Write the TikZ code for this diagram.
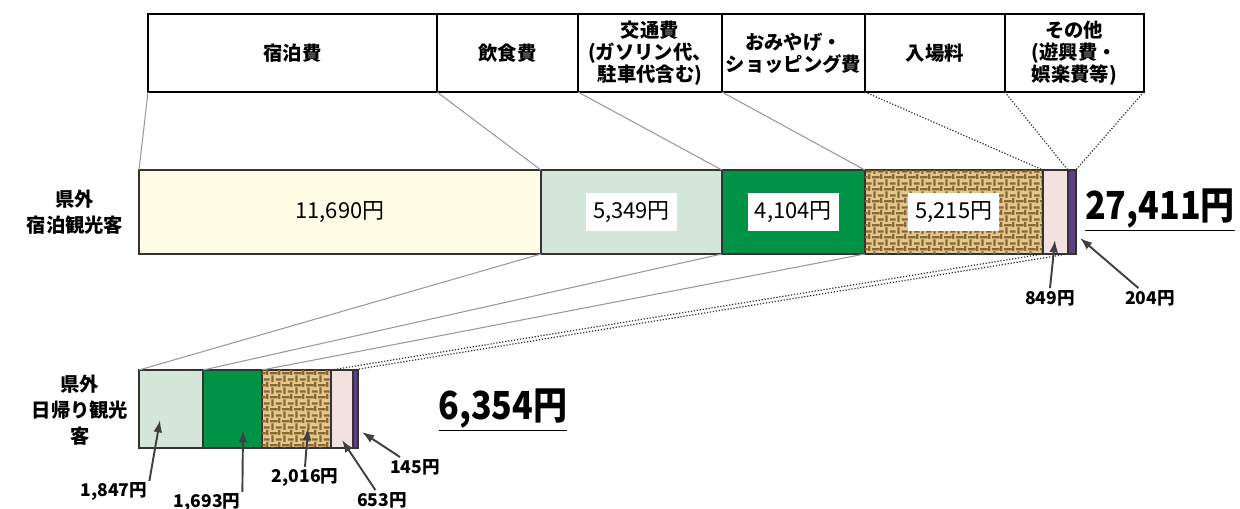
\documentclass[tikz,border=0pt]{standalone}
\usepackage{fontspec}
\setmainfont{Noto Sans CJK JP}
\usetikzlibrary{positioning,patterns,arrows.meta}
\definecolor{stayc}{HTML}{FFFDE6}
\definecolor{foodc}{HTML}{D4E6DA}
\definecolor{greenc}{HTML}{009245}
\definecolor{tanc}{HTML}{E3C88E}
\definecolor{brownc}{HTML}{8A6834}
\definecolor{pinkc}{HTML}{F3E1E0}
\definecolor{purplec}{HTML}{5E3F86}
\pgfdeclarepatternformonly{mazeweave}{\pgfpointorigin}{\pgfqpoint{7pt}{7pt}}{\pgfqpoint{7pt}{7pt}}{
  \pgfsetlinewidth{1.3pt}
  \pgfpathmoveto{\pgfqpoint{0pt}{1pt}}\pgfpathlineto{\pgfqpoint{4.5pt}{1pt}}
  \pgfpathmoveto{\pgfqpoint{1.5pt}{3pt}}\pgfpathlineto{\pgfqpoint{1.5pt}{7pt}}
  \pgfpathmoveto{\pgfqpoint{3.5pt}{4.5pt}}\pgfpathlineto{\pgfqpoint{7pt}{4.5pt}}
  \pgfpathmoveto{\pgfqpoint{5.5pt}{0pt}}\pgfpathlineto{\pgfqpoint{5.5pt}{3pt}}
  \pgfusepath{stroke}}
\newcommand\bigsum[1]{\scalebox{0.88}[1]{\underline{#1}}}
\begin{document}
\begin{tikzpicture}[x=0.02cm,y=-0.02cm,
    head/.style={draw,line width=1.2pt,anchor=north west,minimum height=1.56cm,inner sep=0pt,outer sep=0pt,align=center,font=\bfseries\fontsize{11}{12.5}\selectfont},
    seg/.style={draw=black!80,line width=1pt,minimum height=1.68cm,inner sep=0pt,outer sep=0pt},
    dseg/.style={seg,minimum height=1.56cm},
    mazefill/.style={fill=tanc,postaction={pattern=mazeweave,pattern color=brownc}},
    valbox/.style={fill=white,inner xsep=4pt,inner ysep=5pt,font=\fontsize{12.5}{14}\selectfont},
    vlabel/.style={inner sep=1pt,font=\bfseries\fontsize{10}{12}\selectfont},
    who/.style={align=center,font=\bfseries\fontsize{11}{15}\selectfont},
    total/.style={font=\bfseries\fontsize{22}{24}\selectfont},
    fan/.style={gray!80,line width=0.6pt},
    fandot/.style={black!80,densely dotted,line width=0.7pt},
    pointer/.style={-{Latex[length=7pt,width=5pt]},line width=1.1pt,black!75}]
\useasboundingbox (0,0) rectangle (1240,508);

\node[head,minimum width=5.78cm] (stay) at (148,14) {宿泊費};
\node[head,minimum width=2.82cm,right=0pt of stay] (food) {飲食費};
\node[head,minimum width=2.88cm,right=0pt of food] (trans) {交通費\\(ガソリン代、\\駐車代含む)};
\node[head,minimum width=2.86cm,right=0pt of trans] (souv) {おみやげ・\\ショッピング費};
\node[head,minimum width=2.80cm,right=0pt of souv] (fee) {入場料};
\node[head,minimum width=2.78cm,right=0pt of fee] (other) {その他\\(遊興費・\\娯楽費等)};

\node[seg,fill=stayc,anchor=north west,minimum width=8.04cm] (s1) at (139,170) {};
\node[seg,fill=foodc,minimum width=3.62cm,right=0pt of s1] (s2) {};
\node[seg,fill=greenc,minimum width=2.86cm,right=0pt of s2] (s3) {};
\node[seg,mazefill,minimum width=3.56cm,right=0pt of s3] (s4) {};
\node[seg,fill=pinkc,minimum width=0.50cm,right=0pt of s4] (s5) {};
\node[seg,fill=purplec,minimum width=0.16cm,right=0pt of s5] (s6) {};

\node[font=\fontsize{12.5}{14}\selectfont] (v1) at (s1) {11,690円};
\node[valbox] (v2) at (s2) {5,349円};
\node[valbox] (v3) at (s3) {4,104円};
\node[valbox] (v4) at (s4) {5,215円};

\node[dseg,fill=foodc,anchor=north west,minimum width=1.28cm] (d2) at (139,370) {};
\node[dseg,fill=greenc,minimum width=1.18cm,right=0pt of d2] (d3) {};
\node[dseg,mazefill,minimum width=1.38cm,right=0pt of d3] (d4) {};
\node[dseg,fill=pinkc,minimum width=0.44cm,right=0pt of d4] (d5) {};
\node[dseg,fill=purplec,minimum width=0.10cm,right=0pt of d5] (d6) {};

\draw[fan] (stay.south west) -- (s1.north west);
\draw[fan] (food.south west) -- (s2.north west);
\draw[fan] (trans.south west) -- (s3.north west);
\draw[fan] (souv.south west) -- (s4.north west);
\draw[fandot] (fee.south west) -- (s5.north west);
\draw[fandot] (other.south west) -- (s6.north west);
\draw[fandot] (other.south east) -- (s6.north east);

\draw[fan] (s2.south west) -- (d2.north west);
\draw[fan] (s3.south west) -- (d3.north west);
\draw[fan] (s4.south west) -- (d4.north west);
\draw[fandot] (s5.south west) -- (d5.north west);
\draw[fandot] (s6.south west) -- (d6.north west);

\node[who] (stayer) at (75,212) {県外\\宿泊観光客};
\node[who] (dayer) at (80,410) {県外\\日帰り観光\\客};
\node[total] (tot1) at (1160,210) {\bigsum{27,411円}};
\node[total] (tot2) at (503,410) {\bigsum{6,354円}};

\coordinate (t849) at (1055,240);
\coordinate (t204) at (1080,238);
\coordinate (t1847) at (160,420);
\coordinate (t1693) at (243,430);
\coordinate (t2016) at (308,428);
\coordinate (t653) at (342,440);
\coordinate (t145) at (362,432);

\node[vlabel] (l849) at (1050,298) {849円};
\node[vlabel] (l204) at (1150,298) {204円};
\node[vlabel] (l1847) at (114,492) {1,847円};
\node[vlabel] (l1693) at (207,503) {1,693円};
\node[vlabel] (l2016) at (305,478) {2,016円};
\node[vlabel] (l653) at (382,500) {653円};
\node[vlabel] (l145) at (415,467) {145円};

\draw[pointer] (l849.north) -- (t849);
\draw[pointer] (l204) -- (t204);
\draw[pointer] (l1847.north east) -- (t1847);
\draw[pointer] (l1693.north east) -- (t1693);
\draw[pointer] (l2016.north) -- (t2016);
\draw[pointer] (l653) -- (t653);
\draw[pointer] (l145) -- (t145);
\end{tikzpicture}
\end{document}
